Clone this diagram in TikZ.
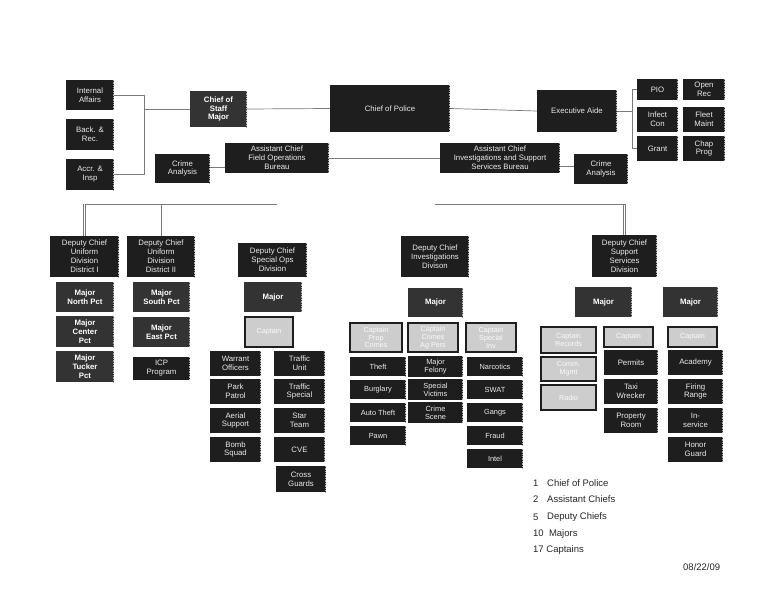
\documentclass[tikz,border=0pt]{standalone}
\usepackage{fontspec}
\setmainfont{Liberation Sans}
\definecolor{boxdark}{HTML}{1E1E1E}
\definecolor{majdark}{HTML}{333333}
\definecolor{capfill}{HTML}{CDCDCD}
\definecolor{linegray}{HTML}{7A7A7A}
\newcommand\Bx[7][dbox]{%
 \pgfmathsetmacro\bxw{#5-#3}\pgfmathsetmacro\bxh{#6-#4}%
 \node[#1,minimum width=\bxw pt,minimum height=\bxh pt] (#2) at ({(#3+#5)/2},{(#4+#6)/2}) {#7};}
\tikzset{
 base/.style={inner sep=0pt, align=center, font=\fontsize{7.8}{8.9}\selectfont},
 stripe/.style={path picture={\draw[gray!65, dash pattern=on 1pt off 0.7pt, line width=1.3pt]
   ([xshift=-0.8pt]path picture bounding box.north east) -- ([xshift=-0.8pt]path picture bounding box.south east);}},
 dbox/.style={base, fill=boxdark, text=white!92!black, stripe},
 tbox/.style={dbox, font=\fontsize{7.4}{7.9}\selectfont},
 mbox/.style={base, fill=majdark, text=white, font=\fontsize{7.8}{8.9}\selectfont\bfseries, stripe},
 cbox/.style={base, fill=capfill, draw=boxdark, line width=1.3pt, text=white!97!gray, font=\fontsize{7.2}{7.9}\selectfont},
 conn/.style={draw=linegray, line width=0.7pt},
 dbl/.style={draw=linegray, line width=0.6pt, double=white, double distance=1.3pt},
 legend/.style={inner sep=0pt, anchor=west, text=black!85, font=\fontsize{9.5}{11}\selectfont}
}
\begin{document}
\begin{tikzpicture}[x=1pt,y=-1pt]
\useasboundingbox[fill=white] (0,0) rectangle (768,592);
% top left
\Bx{ia}{66}{80}{114}{110}{Internal\\Affairs}
\Bx{br}{66}{119}{114}{150}{Back. \&\\Rec.}
\Bx{ai}{66}{159}{114}{190}{Accr. \&\\Insp}
\Bx[mbox]{cos}{190}{91}{247}{127}{Chief of\\Staff\\Major}
\Bx{cop}{330}{85}{450}{132}{Chief of Police}
\Bx{ea}{537}{90}{617}{132}{Executive Aide}
\Bx{pio}{637}{79}{678}{100}{PIO}
\Bx{orc}{683}{79}{725}{100}{Open\\Rec}
\Bx{ic}{637}{107}{678}{132}{Infect\\Con}
\Bx{fm}{683}{107}{725}{132}{Fleet\\Maint}
\Bx{gr}{637}{136}{678}{161}{Grant}
\Bx{cp}{683}{136}{725}{161}{Chap\\Prog}
\Bx{cal}{155}{154}{210}{183}{Crime\\Analysis}
\Bx{acf}{225}{143}{329}{173}{Assistant Chief\\Field Operations\\Bureau}
\Bx{aci}{440}{143}{560}{173}{Assistant Chief\\Investigations and Support\\Services Bureau}
\Bx{car}{574}{154}{628}{184}{Crime\\Analysis}
% deputy chiefs
\Bx{dc1}{50}{236}{119}{277}{Deputy Chief\\Uniform\\Division\\District I}
\Bx{dc2}{127}{236}{195}{277}{Deputy Chief\\Uniform\\Division\\District II}
\Bx{dc3}{238}{243}{307}{277}{Deputy Chief\\Special Ops\\Division}
\Bx{dci}{401}{236}{469}{277}{Deputy Chief\\Investigations\\Divison}
\Bx{dcs}{592}{235}{657}{277}{Deputy Chief\\Support\\Services\\Division}
% uniform
\Bx[mbox]{mn}{56}{282}{114}{312}{Major\\North Pct}
\Bx[mbox]{ms}{133}{282}{190}{312}{Major\\South Pct}
\Bx[mbox]{mc}{56}{316}{114}{347}{Major\\Center\\Pct}
\Bx[mbox]{me}{133}{317}{190}{347}{Major\\East Pct}
\Bx[mbox]{mt}{56}{351}{114}{382}{Major\\Tucker\\Pct}
\Bx{icp}{133}{357}{190}{380}{ICP\\Program}
% special ops
\Bx[mbox]{m3}{244}{282}{302}{312}{Major}
\Bx[cbox]{c3}{245}{317}{293}{347}{Captain}
\Bx{wo}{210}{351}{261}{376}{Warrant\\Officers}
\Bx{tu}{274}{351}{325}{376}{Traffic\\Unit}
\Bx{pp}{210}{379}{261}{404}{Park\\Patrol}
\Bx{ts}{274}{379}{325}{404}{Traffic\\Special}
\Bx{as}{210}{408}{261}{433}{Aerial\\Support}
\Bx{st}{274}{408}{325}{433}{Star\\Team}
\Bx{bs}{210}{437}{261}{462}{Bomb\\Squad}
\Bx{cve}{274}{437}{325}{462}{CVE}
\Bx{cg}{276}{466}{326}{492}{Cross\\Guards}
% investigations
\Bx[mbox]{mi}{408}{288}{463}{317}{Major}
\Bx[cbox]{cpc}{350}{323}{402}{352}{Captain\\Prop\\Crimes}
\Bx[cbox]{cca}{408}{323}{458}{352}{Captain\\Crimes\\Ag Pers}
\Bx[cbox]{csi}{466}{323}{516}{352}{Captain\\Special\\Inv}
\Bx[tbox]{th}{350}{357}{406}{376}{Theft}
\Bx[tbox]{mf}{408}{356}{463}{377}{Major\\Felony}
\Bx[tbox]{na}{467}{357}{523}{376}{Narcotics}
\Bx[tbox]{bu}{350}{380}{406}{399}{Burglary}
\Bx[tbox]{sv}{408}{379}{463}{400}{Special\\Victims}
\Bx[tbox]{sw}{467}{380}{523}{399}{SWAT}
\Bx[tbox]{at}{350}{403}{406}{422}{Auto Theft}
\Bx[tbox]{cs}{408}{402}{463}{423}{Crime\\Scene}
\Bx[tbox]{ga}{467}{403}{523}{422}{Gangs}
\Bx[tbox]{pa}{350}{426}{406}{445}{Pawn}
\Bx[tbox]{fr}{467}{426}{523}{445}{Fraud}
\Bx[tbox]{in}{467}{449}{523}{468}{Intel}
% support
\Bx[mbox]{ms1}{575}{287}{632}{317}{Major}
\Bx[mbox]{ms2}{663}{287}{718}{317}{Major}
\Bx[cbox]{cr}{541}{327}{596}{353}{Captain\\Records}
\Bx[cbox]{cv}{541}{357}{596}{381}{Comm.\\Mgmt}
\Bx[cbox]{cra}{541}{385}{596}{410}{Radio}
\Bx[cbox]{cm}{604}{327}{653}{347}{Captain}
\Bx{pe}{604}{350}{658}{375}{Permits}
\Bx{tw}{604}{379}{658}{404}{Taxi\\Wrecker}
\Bx{pr}{604}{408}{658}{433}{Property\\Room}
\Bx[cbox]{crt}{668}{327}{717}{347}{Captain}
\Bx{ac}{668}{350}{723}{375}{Academy}
\Bx{fi}{668}{379}{723}{404}{Firing\\Range}
\Bx{is}{668}{408}{723}{433}{In-\\service}
\Bx{hg}{668}{437}{723}{462}{Honor\\Guard}
% connectors
\coordinate (b1) at (144,0);
\coordinate (b2) at (632,0);
\coordinate (h0) at (0,157);
\coordinate (h1) at (0,204);
\draw[conn] (ia.east) -| (b1 |- ai.east) -- (ai.east);
\draw[conn] (b1 |- cos.west) -- (cos.west);
\draw[conn] (cos.east) -- (cop.west);
\draw[conn] (cop.east) -- (ea.west);
\draw[conn] (ea.east) -- (b2 |- ea.east);
\draw[conn] (pio.west) -| (b2 |- gr.west) -- (gr.west);
\draw[conn] ([yshift=1pt]cal.east) -- ([yshift=1pt]cal.east -| acf.west);
\draw[conn] ([yshift=3pt]car.west) -- ([yshift=3pt]car.west -| aci.east);
\draw[dbl] (cop.south) -- (cop.south |- h0);
\draw[conn] (acf.east) -- (aci.west);
\draw[dbl] (acf.south) -- (acf.south |- dc3.north);
\draw[dbl] (dc1.north) -- (dc1.north |- h1);
\draw[conn] (dc2.north) -- (dc2.north |- h1);
\draw[conn] (dc1.north |- h1) -- (acf.south |- h1);
\draw[dbl] (aci.south) -- (aci.south |- h1);
\draw[dbl] (dci.north) -- (dci.north |- h1);
\draw[dbl] (dcs.north) -- (dcs.north |- h1);
\draw[conn] (dci.north |- h1) -- (dcs.north |- h1);
% legend
\node[legend] (n1) at (533,483) {1};
\node[legend] (t1) at (547,483) {Chief of Police};
\node[legend] (n2) at (533,499) {2};
\node[legend] (t2) at (547,499) {Assistant Chiefs};
\node[legend] (n3) at (533,517) {5};
\node[legend] (t3) at (547,517) {Deputy Chiefs};
\node[legend] (t4) at (533,534) {10\ \ Majors};
\node[legend] (t5) at (533,550) {17 Captains};
\node[legend] (dt) at (683,567) {08/22/09};
\end{tikzpicture}
\end{document}
